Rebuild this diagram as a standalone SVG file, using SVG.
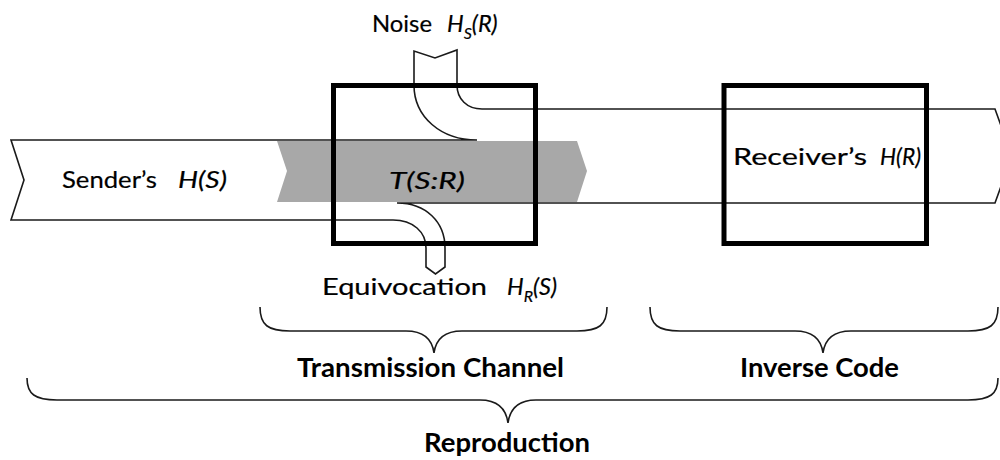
<svg xmlns="http://www.w3.org/2000/svg" width="1000" height="460" viewBox="0 0 1000 460">
<style>
.ln{fill:none;stroke:#1a1a1a;stroke-width:1.6;stroke-linejoin:miter}
.box{fill:none;stroke:#000;stroke-width:5}
.t{font-family:Lato,"Liberation Sans",sans-serif;font-size:23.5px;fill:#000;stroke:#000;stroke-width:0.2}
.i{font-style:italic}
.b{font-family:Lato,"Liberation Sans",sans-serif;font-size:26px;font-weight:bold;fill:#000}
.sub{font-size:16px}
</style>
<rect width="1000" height="460" fill="#fff"/>
<g id="flow">
<polygon id="transinfo" points="277,141 577,141 587,171 577,202 277,202 287,171" fill="#a8a8a8"/>
<path class="ln" d="M477,140 L11,140 L24,180 L11,220 L393,220 C413,220 426,232 426,248 L426,267 L435.5,274 L445,267 L445,248 C445,222 426,203 397,203 L995,203 L1012,156 L995,109 L482,109 C467,109 457,99 457,85 L457,50 L435,58 L414,51 L414,85 C414,117 441,140 477,140 Z"/>
</g>
<g id="channel">
<rect class="box" x="333.5" y="85.5" width="202" height="158"/>
</g>
<g id="receiver">
<rect class="box" x="724" y="85.5" width="202.5" height="158"/>
</g>
<g id="labels">
<text class="t" x="372" y="32" textLength="60" lengthAdjust="spacingAndGlyphs">Noise</text>
<text class="t i" x="447" y="32">H<tspan class="sub" dy="7">S</tspan><tspan dy="-7">(R)</tspan></text>
<text class="t" x="62" y="188" textLength="95" lengthAdjust="spacingAndGlyphs">Sender’s</text>
<text class="t i" x="178" y="188" textLength="49" lengthAdjust="spacingAndGlyphs">H(S)</text>
<text class="t i" x="427" y="189" text-anchor="middle" font-size="25" textLength="76" lengthAdjust="spacingAndGlyphs">T(S:R)</text>
<text class="t" x="733" y="165" textLength="134" lengthAdjust="spacingAndGlyphs">Receiver’s</text>
<text class="t i" x="880" y="165" textLength="41" lengthAdjust="spacingAndGlyphs">H(R)</text>
<text class="t" x="322" y="295" textLength="165" lengthAdjust="spacingAndGlyphs">Equivocation</text>
<text class="t i" x="507" y="295">H<tspan class="sub" dy="7">R</tspan><tspan dy="-7">(S)</tspan></text>
</g>
<g id="braces">
<path class="ln" d="M260,307 C260,325 268,331 290,331 L406,331 C423,331 432,338 434,353 C436,338 445,331 462,331 L577,331 C599,331 607,325 607,307"/>
<path class="ln" d="M650,307 C650,325 658,331 680,331 L795,331 C812,331 821,338 823,353 C825,338 834,331 851,331 L968,331 C990,331 998,325 998,307"/>
<path class="ln" d="M27,378 C27,394 35,400 57,400 L480,400 C497,400 506,408 508,423 C510,408 519,400 536,400 L968,400 C990,400 998,394 998,378"/>
</g>
<g id="brace-labels">
<text class="b" x="430.5" y="377" text-anchor="middle" textLength="267" lengthAdjust="spacingAndGlyphs">Transmission Channel</text>
<text class="b" x="819.5" y="377" text-anchor="middle" textLength="159" lengthAdjust="spacingAndGlyphs">Inverse Code</text>
<text class="b" x="507" y="452" text-anchor="middle" textLength="166" lengthAdjust="spacingAndGlyphs">Reproduction</text>
</g>
</svg>
